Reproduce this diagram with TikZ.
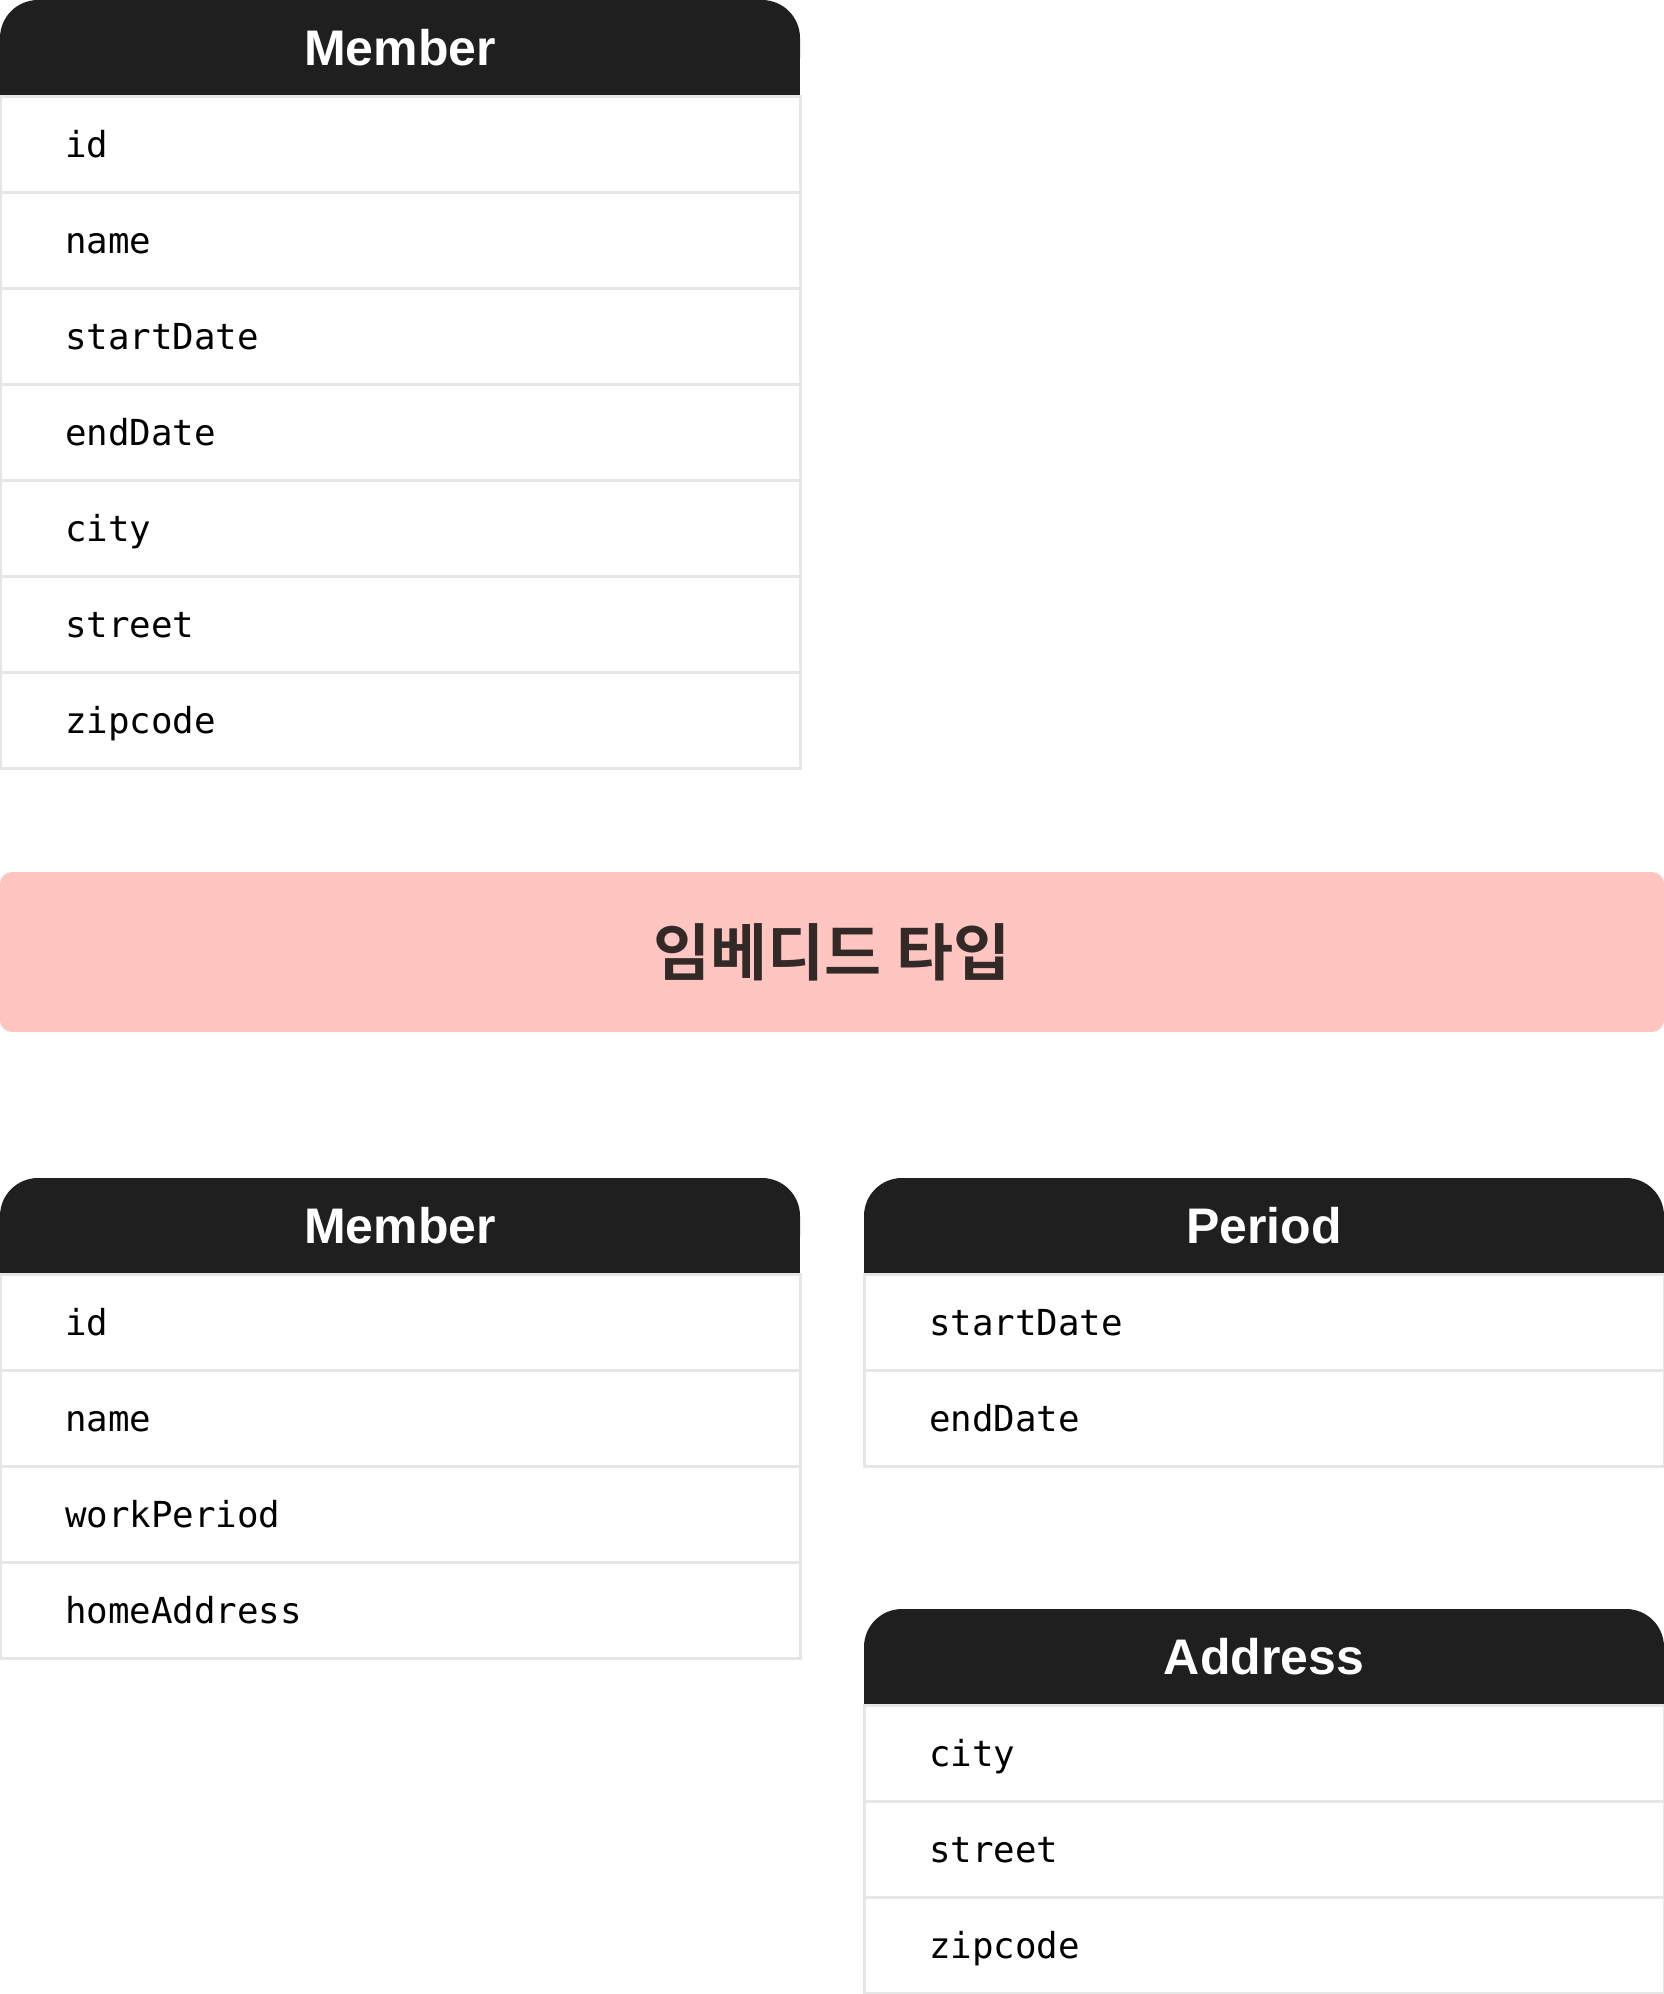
\documentclass[tikz,border=0pt]{standalone}
\usepackage{fontspec}
\setmonofont{DejaVu Sans Mono}
\newfontfamily\headfont{Liberation Sans}
\newfontfamily\krfont{Noto Sans CJK KR}[BoldFont=Noto Sans CJK KR Bold]
\usetikzlibrary{positioning,backgrounds}
\definecolor{headfill}{HTML}{1F1F1F}
\definecolor{rowline}{HTML}{E6E6E6}
\definecolor{bannerfill}{HTML}{FFC6C1}
\definecolor{bannertext}{HTML}{332A28}

\begin{document}
\begin{tikzpicture}[x=1pt,y=-1pt,
    headbox/.style={fill=headfill,rounded corners=38pt,minimum width=800pt,minimum height=96pt,
        outer sep=0pt,text=white,font=\headfont\bfseries\fontsize{50}{50}\selectfont},
    field/.style={draw=rowline,line width=3pt,fill=white,anchor=north west,outer sep=0pt,
        minimum width=800pt,minimum height=96pt,inner xsep=65pt,text width=670pt,align=left,
        text height=32pt,text depth=4.8pt,font=\ttfamily\fontsize{35.8}{36}\selectfont},
    banner/.style={fill=bannerfill,rounded corners=12pt,minimum width=1664pt,minimum height=160pt,
        outer sep=0pt,text=bannertext,font=\krfont\bfseries\fontsize{62}{62}\selectfont}]
    \useasboundingbox (0,0) rectangle (1664,1994);

    % Member (flat)
    \node[headbox] (memhead) at (400,48) {Member};
    \foreach \f [count=\i from 0] in {id,name,startDate,endDate,city,street,zipcode}
        \node[field] (mem\i) at (0,96+96*\i) {\f};

    % Banner
    \node[banner] (embed) at (832,952) {임베디드 타입};

    % Member (embedded)
    \node[headbox] (emhead) at (400,1226) {Member};
    \foreach \f [count=\i from 0] in {id,name,workPeriod,homeAddress}
        \node[field] (em\i) at (0,1274+96*\i) {\f};

    % Period
    \node[headbox] (perhead) at (1264,1226) {Period};
    \foreach \f [count=\i from 0] in {startDate,endDate}
        \node[field] (per\i) at (864,1274+96*\i) {\f};

    % Address
    \node[headbox] (addrhead) at (1264,1657) {Address};
    \foreach \f [count=\i from 0] in {city,street,zipcode}
        \node[field] (addr\i) at (864,1705+96*\i) {\f};

    % square off the lower corners of the headers
    \begin{scope}[on background layer]
        \foreach \h in {memhead,emhead,perhead,addrhead}
            \fill[headfill] (\h.west) rectangle (\h.south east);
    \end{scope}
\end{tikzpicture}
\end{document}
